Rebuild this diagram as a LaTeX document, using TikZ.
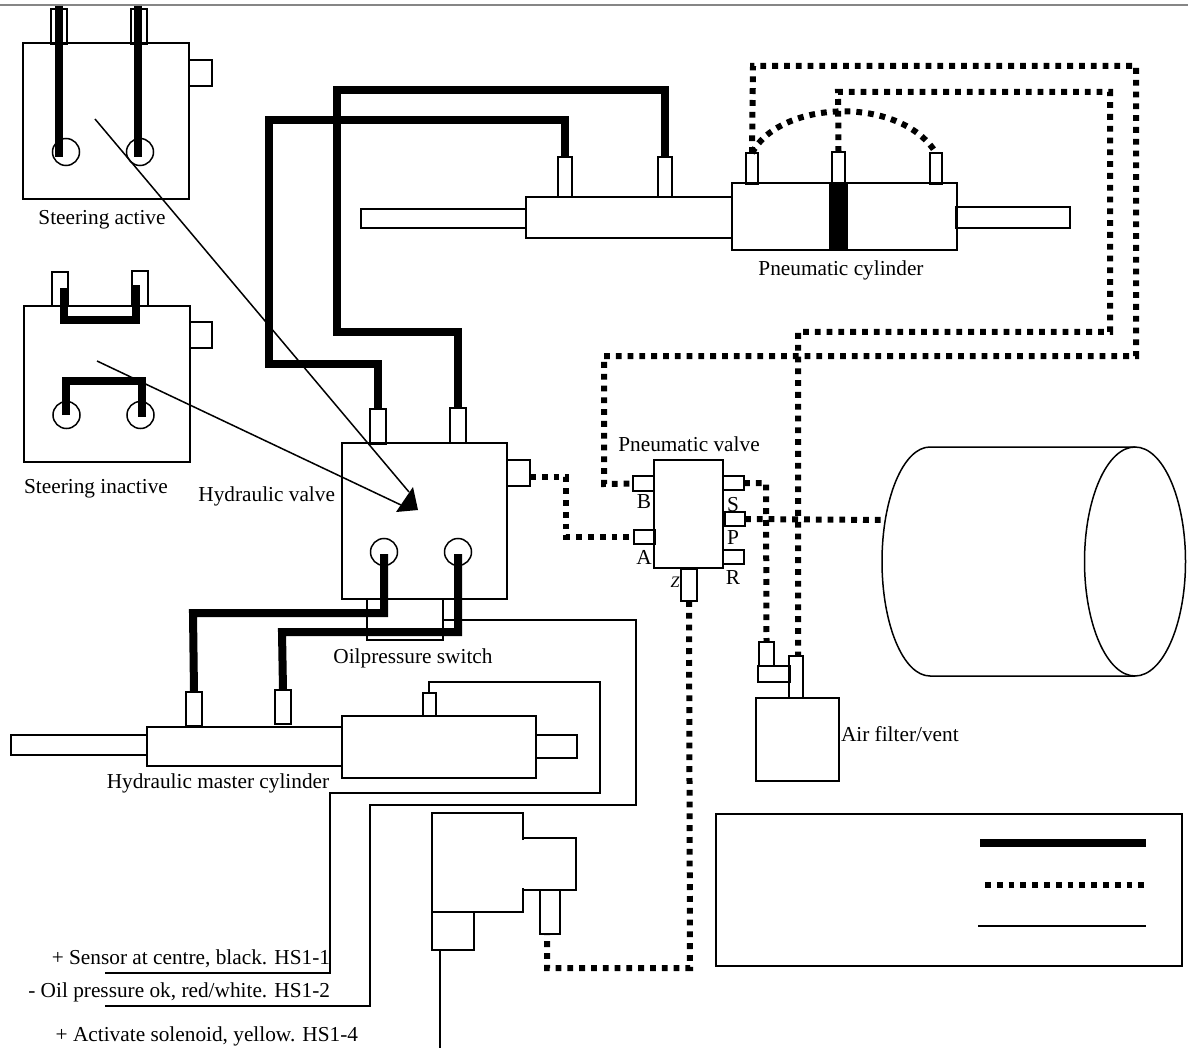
\documentclass[tikz,border=0pt]{standalone}
\usepackage{fontspec}
\usetikzlibrary{shapes.geometric}
\setmainfont{Liberation Serif}
\newcommand{\bx}[6][]{\node[boxn,#1,minimum width={(#4-#2)*1pt},minimum height={(#5-#3)*1pt}] (#6) at ({(#2+#4)/2},{(#3+#5)/2}) {};}
\tikzset{
  boxn/.style={draw=black,line width=1.5pt,inner sep=0pt,outer sep=0pt,shape=rectangle},
  hyd/.style={draw=black,line width=8pt,line join=miter},
  pneu/.style={draw=black,line width=6pt,dash pattern=on 5.8pt off 6pt},
  thinw/.style={draw=black,line width=1.5pt},
  lbl/.style={font=\fontsize{21.3}{25}\selectfont,inner sep=0pt,outer sep=0pt,text=black,yshift=-2pt},
  port/.style={draw=black,line width=1.5pt,circle,minimum size=27pt,inner sep=0pt,outer sep=0pt}
}
\begin{document}
\begin{tikzpicture}[x=1pt,y=-1pt]
\useasboundingbox (0,0) rectangle (1188,1048);
\draw[draw=gray!95,line width=2pt] (0,5) -- (1188,5);

% Steering active
\bx{23}{43}{189}{199}{sa}
\bx{189}{60}{212}{86}{satab}
\bx{51}{9}{67}{44}{sap1}
\bx{131}{9}{147}{44}{sap2}
\node[port] (sac1) at (66,152) {};
\node[port] (sac2) at (140,152) {};
\coordinate (satop1) at (59,6);
\coordinate (satop2) at (138,6);
\coordinate (saend1) at (59,157);
\coordinate (saend2) at (138,157);
\draw[hyd] (satop1) -- (saend1);
\draw[hyd] (satop2) -- (saend2);
\node[lbl] (salbl) at (102,218) {Steering active};

% Steering inactive
\bx{24}{306}{190}{462}{si}
\bx{190}{322}{212}{348}{sitab}
\bx{52}{272}{68}{306}{sip1}
\bx{132}{271}{148}{306}{sip2}
\node[port] (sic1) at (66.5,415) {};
\node[port] (sic2) at (140.5,415) {};
\coordinate (sia) at (63.5,288);
\coordinate (sib) at (136,285);
\coordinate (sic) at (65.5,415);
\coordinate (sid) at (141.5,417);
\draw[hyd] (sia) |- (136,320) -- (sib);
\draw[hyd] (sic) |- (141.5,381) -- (sid);
\node[lbl] (silbl) at (96,487) {Steering inactive};

% Hydraulic valve
\bx{342}{443}{507}{599}{hv}
\bx{507}{460}{530}{486}{hvtab}
\bx{370}{409}{386}{444}{hvp1}
\bx{450}{408}{466}{443}{hvp2}
\node[port] (hvc1) at (384,552) {};
\node[port] (hvc2) at (458,552) {};
\bx{367}{599}{443}{640}{osw}
\node[lbl,anchor=east] (hvlbl) at (335,494) {Hydraulic valve};
\node[lbl] (oslbl) at (413,656) {Oilpressure switch};

% Hydraulic cylinder top
\bx{361}{209}{526}{228}{crod}
\bx{526}{197}{732}{238}{ccyl}
\bx{558}{157}{572}{197}{cp1}
\bx{658}{157}{672}{197}{cp2}
\draw[hyd] (hvp1.north) -- (378,364) -- (269,364) -- (269,120) -- (565,120) -- (cp1.north);
\draw[hyd] (hvp2.north) -- (458,332) -- (337,332) -- (337,90) -- (665,90) -- (cp2.north);

% Pneumatic cylinder
\bx{732}{183}{957}{250}{pc}
\bx{956}{207}{1070}{228}{prod}
\node[draw=black,fill=black,inner sep=0pt,minimum width=18pt,minimum height=67pt] (piston) at (838,216.5) {};
\bx{746}{153}{758}{184}{pp1}
\bx{832}{152}{845}{183}{pp2}
\bx{930}{153}{942}{184}{pp3}
\node[lbl] (pclbl) at (841,268) {Pneumatic cylinder};

% Pneumatic valve
\node[draw=black,line width=1.5pt,fill=white,inner sep=0pt,outer sep=0pt,minimum width=69pt,minimum height=108pt] (pv) at (688.5,514) {};
\bx{633}{476}{654}{491}{pvb}
\bx{634}{530}{655}{544}{pva}
\bx{723}{476}{744}{490}{pvs}
\bx{725}{512}{745}{526}{pvp}
\bx{723}{550}{744}{564}{pvr}
\node[lbl,yshift=2pt,font=\fontsize{16}{18}\selectfont\itshape] (zlbl) at (675,582.5) {Z};
\bx[fill=white]{681}{569}{697}{601}{pvz}
\node[lbl] (pvlbl) at (689,442) {Pneumatic valve};
\node[lbl,yshift=2pt] (blbl) at (644,502) {B};
\node[lbl,yshift=2pt] (albl) at (644,557) {A};
\node[lbl,yshift=2pt] (slbl) at (733,505) {S};
\node[lbl,yshift=2pt] (plbl) at (733,538) {P};
\node[lbl,yshift=2pt] (rlbl) at (733,578) {R};

% Air filter
\bx{756}{698}{839}{781}{af}
\bx{789}{656}{803}{698}{afp1}
\bx{758}{666}{790}{682}{afp2}
\bx{759}{642}{774}{666}{afp3}
\node[lbl,anchor=west] (aflbl) at (841,732) {Air filter/vent};

% Tank
\node[draw=black,line width=1.5pt,ellipse,minimum width=101pt,minimum height=229pt,inner sep=0pt,outer sep=0pt] (tankr) at (1135,561.5) {};
\coordinate (tl1) at (930,447);
\draw[thinw] (tankr.north) -- (tl1) arc[start angle=90,end angle=270,x radius=48,y radius=-114.5] -- (tankr.south);

% Pneumatic lines
\draw[pneu] (pp1.north) -- (753,66) -- (1136,66) -- (1136,356) -- (604,356) -- (604,484) -- (pvb.west);
\draw[pneu] (pp2.north) -- (838,92) -- (1110,92) -- (1110,332) -- (798,332) -- (798,656);
\draw[pneu] (pp1.north) .. controls (780,100) and (900,95) .. (pp3.north);
\draw[pneu] (hvtab.east) ++(0,4) -- (566,477) -- (566,537) -- (634,537);
\draw[pneu] (pvs.east) -- (766,483) -- (afp3.north);
\coordinate (tankin) at (881,520);
\draw[pneu] (pvp.east) -- (tankin);
\draw[pneu] (pvz.south) -- (690,968) -- (547,968) -- (547,934);

% Master cylinder
\bx{11}{735}{147}{755}{mrod}
\bx{147}{727}{342}{766}{mc1}
\bx{342}{716}{536}{778}{mc2}
\bx{536}{735}{577}{758}{mrod2}
\bx{186}{692}{202}{726}{mp1}
\bx{275}{690}{291}{724}{mp2}
\bx{423}{693}{436}{716}{mp3}
\draw[hyd] (384,554) -- (384,613) -- (193,613) -- (mp1.north);
\draw[hyd] (458,554) -- (458,632) -- (282,632) -- (mp2.north);
\node[lbl] (mclbl) at (218,781) {Hydraulic master cylinder};

% Solenoid
\bx{432}{912}{474}{950}{solb}
\bx{540}{890}{560}{934}{solp}
\draw[thinw] (523,840) -- (523,813) -- (432,813) -- (432,912) -- (523,912) -- (523,888);
\draw[thinw] (523,838) -- (576,838) -- (576,890) -- (523,890);

% Wires
\coordinate (wa) at (105,973);
\coordinate (wb) at (105,1006);
\coordinate (wc) at (440,1048);
\draw[thinw] (429,693) -- (429,682) -- (600,682) -- (600,793) -- (330,793) -- (330,973) -- (wa);
\draw[thinw] (442,620) -- (636,620) -- (636,805) -- (370,805) -- (370,1006) -- (wb);
\draw[thinw] (440,950) -- (wc);

% Leaders
\coordinate (la) at (95,119);
\coordinate (lb) at (97,361);
\draw[line width=1.5pt] (la) -- (409,492);
\draw[line width=1.5pt] (lb) -- (401,505);
\fill[black] (418,510) -- (413,487) -- (396,512) -- cycle;

% Wire labels
\node[lbl,anchor=east] (w1) at (330,957) {+ Sensor at centre, black. HS1-1};
\node[lbl,anchor=east] (w2) at (330,990) {- Oil pressure ok, red/white. HS1-2};
\node[lbl,anchor=east] (w3) at (358,1034) {+ Activate solenoid, yellow. HS1-4};

% Legend
\bx{716}{814}{1182}{966}{leg}
\coordinate (lg1a) at (980,843); \coordinate (lg1b) at (1146,843);
\coordinate (lg2a) at (985,885); \coordinate (lg2b) at (1146,885);
\coordinate (lg3a) at (978,926); \coordinate (lg3b) at (1146,926);
\draw[hyd] (lg1a) -- (lg1b);
\draw[pneu] (lg2a) -- (lg2b);
\draw[thinw] (lg3a) -- (lg3b);
\end{tikzpicture}
\end{document}
